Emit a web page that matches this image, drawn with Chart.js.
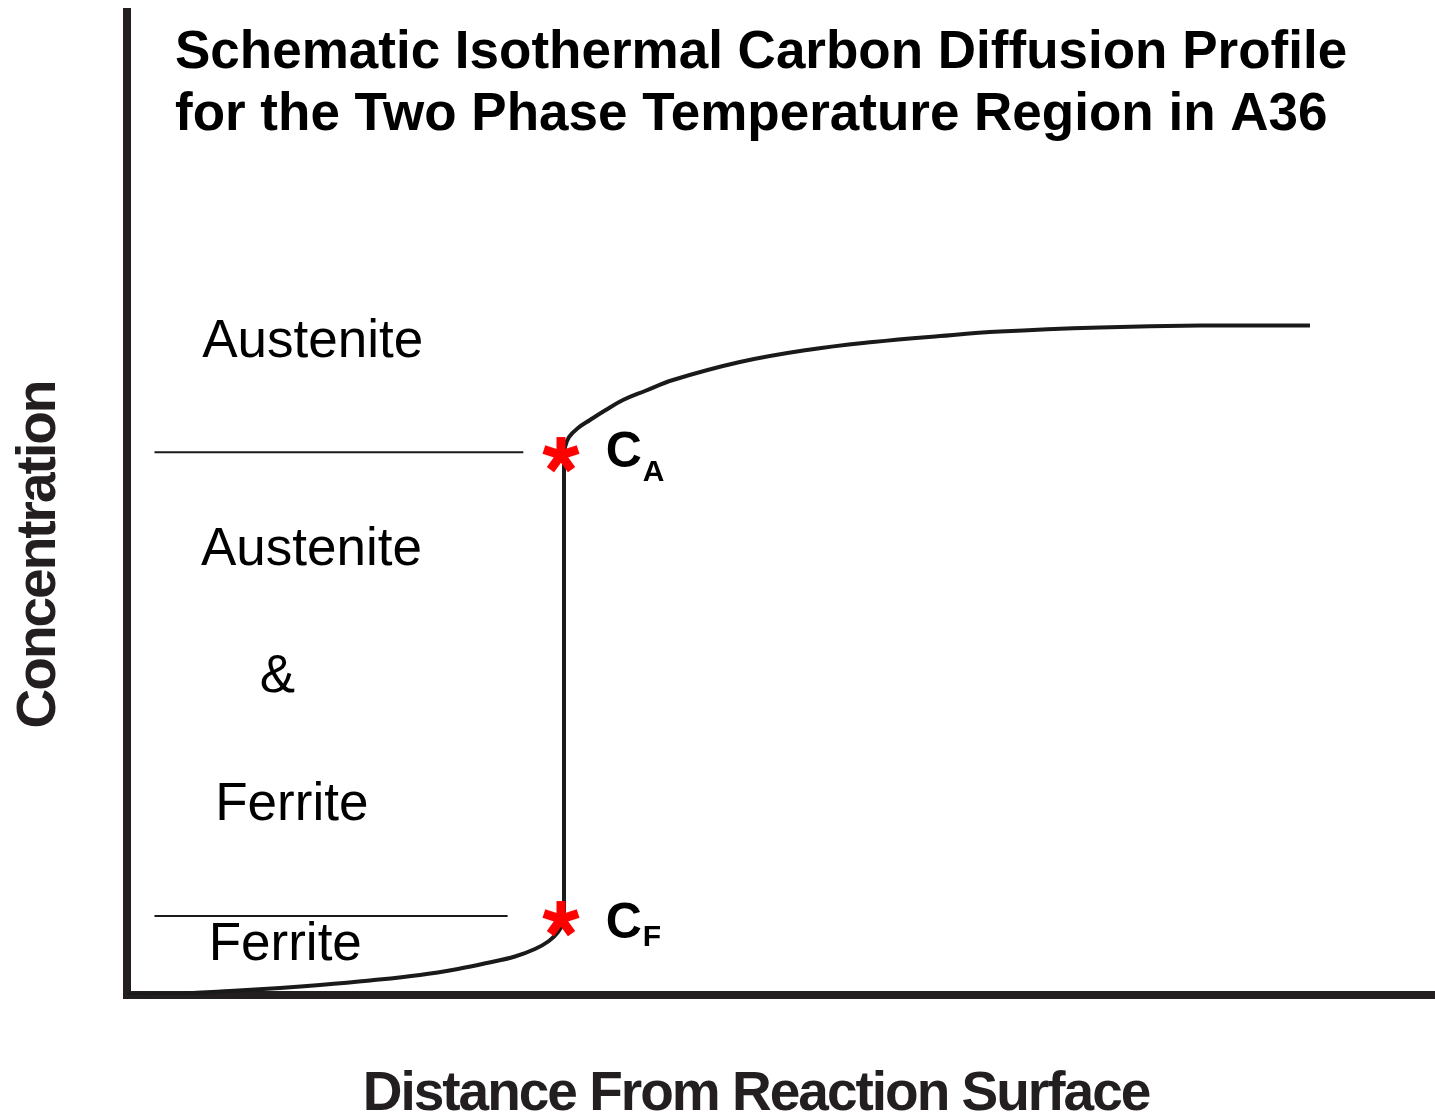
<!DOCTYPE html>
<html>
<head>
<meta charset="utf-8">
<script src="https://cdn.jsdelivr.net/npm/chart.js@4"></script>
<style>
  html, body { margin: 0; padding: 0; background: #fff; }
  #chart { display: block; }
</style>
</head>
<body>
<canvas id="chart" width="1435" height="1115"></canvas>
<script>
// distance (0-100) vs carbon concentration
const distance = [
  0, 4.05, 7.87, 11.7, 14.76, 18.58, 22.4, 25.46, 27.52, 29.66, 31.19, 32.26, 32.95, 33.3, 33.41,
  33.41, 33.49, 33.79, 34.48, 35.4, 36.54, 37.92, 39.6, 41.74, 46.86, 51.99, 57.03, 62.16,
  66.74, 74.39, 82.03, 90.44,
];
const concentration = [
  0, 0.15, 0.41, 0.71, 1.01, 1.47, 2.03, 2.68, 3.24, 3.9, 4.66, 5.47, 6.38, 7.29, 8.41,
  54.2, 55.52, 56.53, 57.45, 58.26, 59.22, 60.28, 61.2, 62.31, 64.13, 65.35, 66.16, 66.77,
  67.22, 67.63, 67.83, 67.83,
];
// index where the profile goes vertical (ferrite side -> austenite side)
const jumpStart = 14;
const jumpEnd = 15;

// interface concentrations C_A and C_F
const markerDistance = [33.18, 33.18];
const markerConc = [54.71, 7.7];

// phase boundary lines on the left
const caLine = { from: 2.1, to: 30.3, level: 55.0 };
const cfLine = { from: 2.1, to: 29.1, level: 8.0 };

const titleLines = [
  'Schematic Isothermal Carbon Diffusion Profile',
  'for the Two Phase Temperature Region in A36',
];
const xTitle = 'Distance From Reaction Surface';
const yTitle = 'Concentration';

const regionLabels = [
  { text: 'Austenite', x: 14.2, y: 64.6 },
  { text: 'Austenite', x: 14.1, y: 43.6 },
  { text: '&', x: 11.5, y: 30.7 },
  { text: 'Ferrite', x: 12.6, y: 17.7 },
  { text: 'Ferrite', x: 12.1, y: 3.5 },
];
const concLabels = [
  { text: 'C', sub: 'A', x: 36.6, y: 53.5, subDy: 14 },
  { text: 'C', sub: 'F', x: 36.6, y: 5.8, subDy: 8 },
];

// red asterisk used as point style
function makeAsterisk() {
  const c = document.createElement('canvas');
  c.width = 44;
  c.height = 44;
  const g = c.getContext('2d');
  g.strokeStyle = '#ff0000';
  g.lineWidth = 9;
  g.lineCap = 'butt';
  const r = 18;
  g.beginPath();
  for (let i = 0; i < 5; i++) {
    const a = -Math.PI / 2 + i * 2 * Math.PI / 5;
    g.moveTo(22, 22);
    g.lineTo(22 + r * Math.cos(a), 22 + r * Math.sin(a));
  }
  g.stroke();
  return c;
}

const textPlugin = {
  id: 'sketchText',
  afterDatasetsDraw(chart) {
    const ctx = chart.ctx;
    const xs = chart.scales.x;
    const ys = chart.scales.y;
    ctx.save();
    ctx.fillStyle = '#000';
    ctx.textBaseline = 'alphabetic';

    ctx.font = 'bold 53px "Liberation Sans", Arial, sans-serif';
    ctx.textAlign = 'left';
    ctx.fillText(titleLines[0], 175, 68);
    ctx.fillText(titleLines[1], 175, 130);

    ctx.font = '53px "Liberation Sans", Arial, sans-serif';
    ctx.textAlign = 'center';
    regionLabels.forEach(l => {
      ctx.fillText(l.text, xs.getPixelForValue(l.x), ys.getPixelForValue(l.y));
    });

    ctx.textAlign = 'left';
    concLabels.forEach(l => {
      const px = xs.getPixelForValue(l.x);
      const py = ys.getPixelForValue(l.y);
      ctx.font = 'bold 50px "Liberation Sans", Arial, sans-serif';
      ctx.fillText(l.text, px, py);
      const w = ctx.measureText(l.text).width;
      ctx.font = 'bold 30px "Liberation Sans", Arial, sans-serif';
      ctx.fillText(l.sub, px + w + 1, py + l.subDy);
    });

    // axis titles
    ctx.fillStyle = '#231f20';
    ctx.font = 'bold 55px "Liberation Sans", Arial, sans-serif';
    ctx.letterSpacing = '-2px';
    ctx.textAlign = 'center';
    ctx.fillText(xTitle, 756, 1110);
    ctx.translate(55, 555);
    ctx.rotate(-Math.PI / 2);
    ctx.fillText(yTitle, 0, 0);
    ctx.restore();
  },
};

const profile = distance.map((d, i) => ({ x: d, y: concentration[i] }));
const ferriteSide = profile.slice(0, jumpStart + 1);
const jump = profile.slice(jumpStart, jumpEnd + 1);
const austeniteSide = profile.slice(jumpEnd);
const markers = markerDistance.map((d, i) => ({ x: d, y: markerConc[i] }));

const curveStyle = {
  showLine: true,
  borderColor: '#1a1a1a',
  borderWidth: 4,
  pointRadius: 0,
  tension: 0.4,
};

new Chart(document.getElementById('chart'), {
  type: 'scatter',
  data: {
    datasets: [
      {
        label: 'interface',
        data: markers,
        pointStyle: makeAsterisk(),
        pointRadius: 20,
        showLine: false,
      },
      { label: 'ferrite side', data: ferriteSide, ...curveStyle },
      { label: 'jump', data: jump, ...curveStyle, tension: 0 },
      { label: 'austenite side', data: austeniteSide, ...curveStyle },
      {
        label: 'C_A',
        data: [{ x: caLine.from, y: caLine.level }, { x: caLine.to, y: caLine.level }],
        showLine: true,
        borderColor: '#1a1a1a',
        borderWidth: 2,
        pointRadius: 0,
      },
      {
        label: 'C_F',
        data: [{ x: cfLine.from, y: cfLine.level }, { x: cfLine.to, y: cfLine.level }],
        showLine: true,
        borderColor: '#1a1a1a',
        borderWidth: 2,
        pointRadius: 0,
      },
    ],
  },
  options: {
    responsive: false,
    animation: false,
    layout: {
      autoPadding: false,
      padding: { left: 127, top: 12, right: 0, bottom: 120 },
    },
    plugins: {
      legend: { display: false },
      tooltip: { enabled: false },
      title: { display: false },
    },
    scales: {
      x: {
        type: 'linear',
        min: 0,
        max: 100,
        ticks: { display: false },
        grid: { display: false, drawTicks: false, lineWidth: 8 },
        border: { display: true, color: '#231f20', width: 8 },
      },
      y: {
        type: 'linear',
        min: 0,
        max: 99.6,
        ticks: { display: false },
        grid: { display: false, drawTicks: false, lineWidth: 8 },
        border: { display: true, color: '#231f20', width: 8 },
      },
    },
  },
  plugins: [textPlugin],
});
</script>
</body>
</html>
